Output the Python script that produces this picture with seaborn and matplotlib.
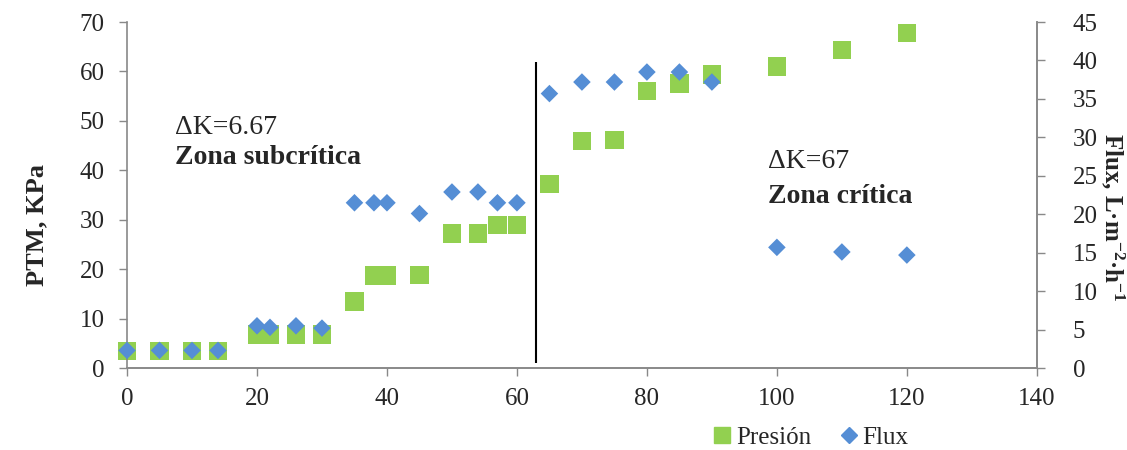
import numpy as np
import pandas as pd
import matplotlib
matplotlib.use("Agg")
import matplotlib.pyplot as plt
from matplotlib.lines import Line2D
import seaborn as sns

# Data
x_vals = [0, 5, 10, 14, 20, 22, 26, 30, 35, 38, 40, 45, 50, 54, 57, 60, 65, 70, 75, 80, 85, 90, 100, 110, 120]
presion = [3.5, 3.5, 3.5, 3.5, 6.8, 6.8, 6.8, 6.8, 13.5, 18.7, 18.7, 18.8, 27.2, 27.2, 28.9, 28.9,
           37.2, 45.9, 46.1, 56.0, 57.6, 59.4, 61.0, 64.4, 67.8]
flux = [2.3, 2.3, 2.3, 2.3, 5.5, 5.3, 5.5, 5.2, 21.5, 21.5, 21.5, 20.1, 22.9, 22.9, 21.5, 21.5,
        35.7, 37.2, 37.2, 38.5, 38.5, 37.2, 15.7, 15.1, 14.7]
x_ticks = [0, 20, 40, 60, 80, 100, 120, 140]
left_ticks = [0, 10, 20, 30, 40, 50, 60, 70]
right_ticks = [0, 5, 10, 15, 20, 25, 30, 35, 40, 45]
divider_x = 63

df = pd.DataFrame({"x": x_vals, "Presión": presion, "Flux": flux})

sns.set_style("white")
plt.rcParams["font.family"] = ["Liberation Serif", "DejaVu Serif"]
plt.rcParams["mathtext.fontset"] = "custom"
plt.rcParams["mathtext.rm"] = "Liberation Serif"
plt.rcParams["mathtext.it"] = "Liberation Serif:italic"
plt.rcParams["mathtext.bf"] = "Liberation Serif:bold"
plt.rcParams["axes.unicode_minus"] = False

green = "#92D050"
blue = "#558ED5"
gray = "#898989"

fig = plt.figure(figsize=(11.27, 4.5), dpi=100)
ax = fig.add_axes([0.1127, 0.182, 0.8073, 0.769])
ax2 = ax.twinx()

sns.scatterplot(data=df, x="x", y="Presión", ax=ax, marker="s", s=175, color=green,
                edgecolor="none", linewidth=0, zorder=2, clip_on=False)
sns.scatterplot(data=df, x="x", y="Flux", ax=ax2, marker="D", s=80, color=blue,
                edgecolor="none", linewidth=0, zorder=3, clip_on=False)

ax.set_xlim(0, 140)
ax.set_ylim(0, 70)
ax2.set_ylim(0, 45)
ax.set_xticks(x_ticks)
ax.set_yticks(left_ticks)
ax2.set_yticks(right_ticks)

ax.vlines(divider_x, 1, 62, color="black", linewidth=1.5, zorder=1)

for a in (ax, ax2):
    for s in a.spines.values():
        s.set_color(gray)
        s.set_linewidth(1.2)
    a.spines["top"].set_visible(False)
    a.tick_params(axis="both", which="major", labelsize=18, length=6, width=1, color=gray,
                  direction="out")
    a.grid(False)

ax.spines["right"].set_visible(True)
ax2.spines["left"].set_visible(False)
ax.tick_params(axis="y", left=True, pad=10)
ax.tick_params(axis="x", bottom=True, pad=8)
ax2.tick_params(axis="y", right=True, pad=20)

ax.set_xlabel("")
ax.set_ylabel("PTM, KPa", fontsize=19, fontweight="bold")
ax.yaxis.set_label_coords(-0.087, 0.413)
ax2.set_ylabel("Flux, L·m$^{\\mathbf{-2}}$·h$^{\\mathbf{-1}}$", fontsize=18, fontweight="bold",
               rotation=270, va="center")
ax2.yaxis.set_label_coords(1.084, 0.436)

ax.text(7.4, 48.6, "ΔK=6.67", fontsize=20, va="center", ha="left")
ax.text(7.4, 42.5, "Zona subcrítica", fontsize=20, fontweight="bold", va="center", ha="left")
ax.text(98.6, 41.7, "ΔK=67", fontsize=20, va="center", ha="left")
ax.text(98.6, 34.8, "Zona crítica", fontsize=20, fontweight="bold", va="center", ha="left")

handles = [
    Line2D([], [], marker="s", linestyle="none", color=green, markersize=12),
    Line2D([], [], marker="D", linestyle="none", color=blue, markersize=8),
]
fig.legend(handles, ["Presión", "Flux"], loc="center", bbox_to_anchor=(0.718, 0.028),
           ncol=2, frameon=False, fontsize=18, handletextpad=0.05, columnspacing=1.0,
           handlelength=1.0)

fig.savefig("out.png", dpi=100)
